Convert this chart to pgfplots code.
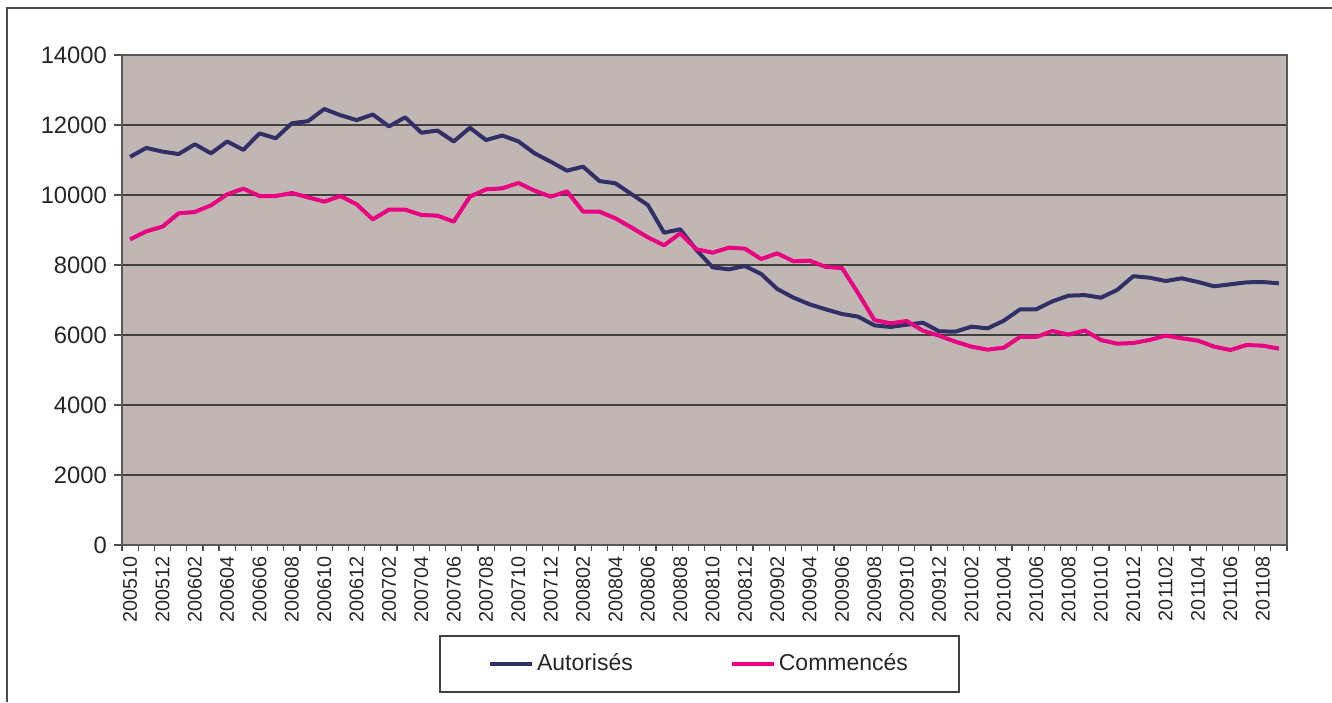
\documentclass[border=0pt]{standalone}
\usepackage{fontspec}
\setmainfont{Liberation Sans}
\usepackage{pgfplots}
\pgfplotsset{compat=1.18}
\definecolor{plotbg}{RGB}{192,183,180}
\definecolor{autocol}{RGB}{48,48,102}
\definecolor{commcol}{RGB}{232,0,128}
\begin{document}
\begin{tikzpicture}
\useasboundingbox (-61pt,-78.5pt) rectangle (605pt,272.5pt);
\draw[black!70, line width=0.6pt] (-57.5pt,-78.5pt) -- (-57.5pt,268.5pt) -- (605pt,268.5pt);
\begin{axis}[
  at={(0,0)}, anchor=south west,
  scale only axis, width=582.5pt, height=245pt,
  xmin=-0.5, xmax=71.5, ymin=0, ymax=14000,
  scaled y ticks=false,
  axis background/.style={fill=plotbg},
  axis line style={black!65, line width=0.6pt},
  tick pos=left,
  ytick={0,2000,...,14000},
  yticklabels={0,2000,4000,6000,8000,10000,12000,14000},
  ymajorgrids, grid style={black!75, line width=0.6pt},
  xtick={0,2,...,70},
  xticklabels={200510,200512,200602,200604,200606,200608,200610,200612,200702,200704,200706,200708,200710,200712,200802,200804,200806,200808,200810,200812,200902,200904,200906,200908,200910,200912,201002,201004,201006,201008,201010,201012,201102,201104,201106,201108},
  major x tick style={draw=none},
  minor xtick={-0.5,0.5,...,71.5},
  minor x tick style={black!70, line width=0.6pt},
  tick align=outside,
  major tick length=4pt, minor tick length=3pt,
  y tick style={black!70, line width=0.6pt},
  yticklabel style={font=\fontsize{11.9}{14}\selectfont, text=black!85},
  xticklabel style={rotate=90, anchor=east, inner sep=1.5pt, font=\fontsize{9.9}{12}\selectfont, text=black!85},
  legend columns=2,
  legend image code/.code={\draw[#1] (0pt,0pt) -- (21pt,0pt);},
  legend style={at={(0.4957,-0.2429)}, anchor=center, draw=black!75, line width=0.6pt,
    font=\fontsize{11.5}{13.5}\selectfont, text=black!85,
    inner xsep=24pt, inner ysep=7.5pt,
    nodes={inner sep=1.5pt},
    /tikz/every even column/.append style={column sep=47pt}},
]
\addplot[autocol, line width=2pt, line join=round] coordinates {
(0,11090) (1,11345) (2,11240) (3,11170) (4,11450) (5,11190) (6,11530) (7,11290)
(8,11760) (9,11620) (10,12050) (11,12110) (12,12457) (13,12280) (14,12140) (15,12300)
(16,11960) (17,12220) (18,11780) (19,11840) (20,11530) (21,11920) (22,11570) (23,11700)
(24,11533) (25,11190) (26,10950) (27,10695) (28,10810) (29,10400) (30,10333) (31,10020)
(32,9714) (33,8924) (34,9019) (35,8430) (36,7933) (37,7876) (38,7971) (39,7743)
(40,7314) (41,7067) (42,6876) (43,6733) (44,6600) (45,6524) (46,6276) (47,6230)
(48,6295) (49,6352) (50,6105) (51,6095) (52,6238) (53,6190) (54,6410) (55,6733)
(56,6733) (57,6962) (58,7124) (59,7140) (60,7067) (61,7286) (62,7680) (63,7638)
(64,7543) (65,7619) (66,7514) (67,7391) (68,7448) (69,7505) (70,7514) (71,7476)
};
\addlegendentry{Autorisés}
\addplot[commcol, line width=2pt, line join=round] coordinates {
(0,8733) (1,8962) (2,9095) (3,9476) (4,9514) (5,9705) (6,10019) (7,10181)
(8,9971) (9,9971) (10,10057) (11,9933) (12,9810) (13,9971) (14,9733) (15,9305)
(16,9581) (17,9581) (18,9429) (19,9410) (20,9238) (21,9952) (22,10162) (23,10190)
(24,10343) (25,10124) (26,9952) (27,10105) (28,9524) (29,9524) (30,9333) (31,9067)
(32,8790) (33,8562) (34,8905) (35,8450) (36,8352) (37,8495) (38,8467) (39,8171)
(40,8333) (41,8105) (42,8124) (43,7943) (44,7914) (45,7190) (46,6429) (47,6333)
(48,6400) (49,6124) (50,5981) (51,5810) (52,5667) (53,5581) (54,5638) (55,5943)
(56,5943) (57,6114) (58,6010) (59,6130) (60,5857) (61,5752) (62,5771) (63,5857)
(64,5981) (65,5905) (66,5838) (67,5667) (68,5571) (69,5714) (70,5695) (71,5610)
};
\addlegendentry{Commencés}
\end{axis}
\end{tikzpicture}
\end{document}
